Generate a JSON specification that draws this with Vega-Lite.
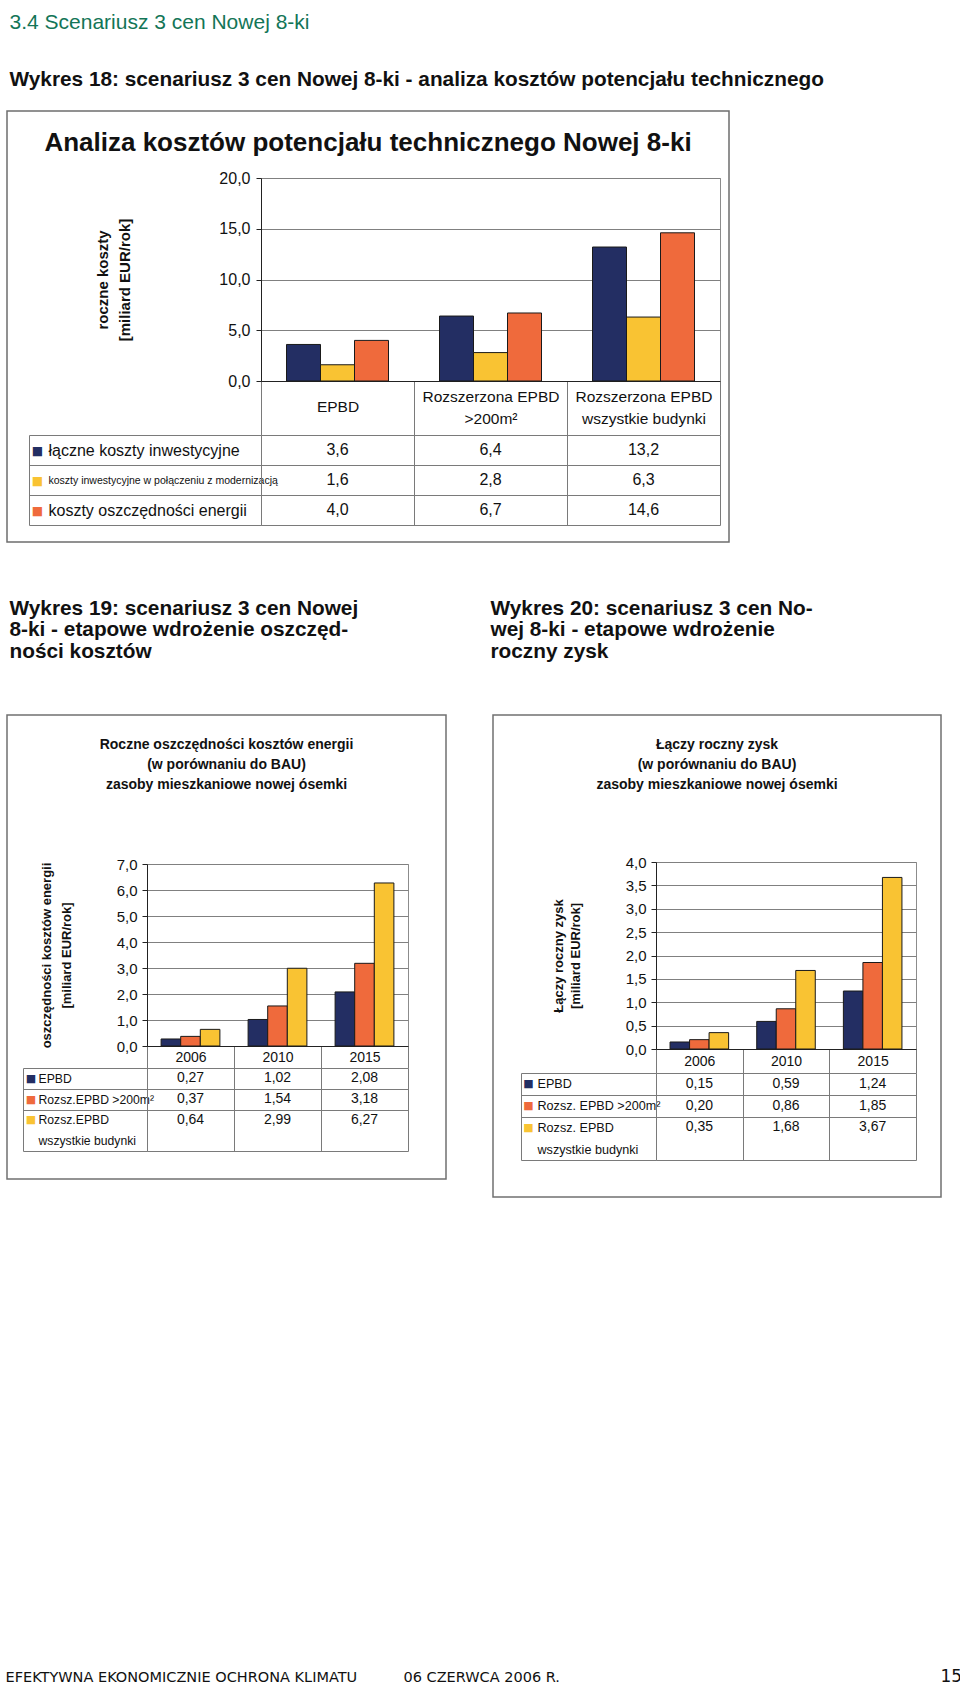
{
 "$schema": "https://vega.github.io/schema/vega-lite/v6.json",
 "padding": 0,
 "background": "#ffffff",
 "spacing": 0,
 "bounds": "flush",
 "resolve": {"scale": {"color": "independent", "xOffset": "independent"}},
 "config": {
  "view": {"stroke": null},
  "font": "Liberation Sans",
  "locale": {"number": {"decimal": ",", "thousands": " ", "grouping": [3], "currency": ["", " zł"]}},
  "axis": {"labelFont": "Liberation Sans", "titleFont": "Liberation Sans", "labelColor": "#111111", "titleColor": "#111111"},
  "text": {"font": "Liberation Sans", "color": "#111111"}
 },
 "datasets": {
  "d18": [
   {"kat": "EPBD", "seria": "łączne koszty inwestycyjne", "v": 3.6},
   {"kat": "EPBD", "seria": "koszty inwestycyjne w połączeniu z modernizacją", "v": 1.6},
   {"kat": "EPBD", "seria": "koszty oszczędności energii", "v": 4.0},
   {"kat": "Rozszerzona EPBD >200m²", "seria": "łączne koszty inwestycyjne", "v": 6.4},
   {"kat": "Rozszerzona EPBD >200m²", "seria": "koszty inwestycyjne w połączeniu z modernizacją", "v": 2.8},
   {"kat": "Rozszerzona EPBD >200m²", "seria": "koszty oszczędności energii", "v": 6.7},
   {"kat": "Rozszerzona EPBD wszystkie budynki", "seria": "łączne koszty inwestycyjne", "v": 13.2},
   {"kat": "Rozszerzona EPBD wszystkie budynki", "seria": "koszty inwestycyjne w połączeniu z modernizacją", "v": 6.3},
   {"kat": "Rozszerzona EPBD wszystkie budynki", "seria": "koszty oszczędności energii", "v": 14.6}
  ],
  "d19": [
   {"kat": "2006", "seria": "EPBD", "v": 0.27},
   {"kat": "2010", "seria": "EPBD", "v": 1.02},
   {"kat": "2015", "seria": "EPBD", "v": 2.08},
   {"kat": "2006", "seria": "Rozsz.EPBD >200m²", "v": 0.37},
   {"kat": "2010", "seria": "Rozsz.EPBD >200m²", "v": 1.54},
   {"kat": "2015", "seria": "Rozsz.EPBD >200m²", "v": 3.18},
   {"kat": "2006", "seria": "Rozsz.EPBD wszystkie budynki", "v": 0.64},
   {"kat": "2010", "seria": "Rozsz.EPBD wszystkie budynki", "v": 2.99},
   {"kat": "2015", "seria": "Rozsz.EPBD wszystkie budynki", "v": 6.27}
  ],
  "d20": [
   {"kat": "2006", "seria": "EPBD", "v": 0.15},
   {"kat": "2010", "seria": "EPBD", "v": 0.59},
   {"kat": "2015", "seria": "EPBD", "v": 1.24},
   {"kat": "2006", "seria": "Rozsz. EPBD >200m²", "v": 0.20},
   {"kat": "2010", "seria": "Rozsz. EPBD >200m²", "v": 0.86},
   {"kat": "2015", "seria": "Rozsz. EPBD >200m²", "v": 1.85},
   {"kat": "2006", "seria": "Rozsz. EPBD wszystkie budynki", "v": 0.35},
   {"kat": "2010", "seria": "Rozsz. EPBD wszystkie budynki", "v": 1.68},
   {"kat": "2015", "seria": "Rozsz. EPBD wszystkie budynki", "v": 3.67}
  ]
 },
 "vconcat": [
  {"hconcat": [
    {"width": 9, "height": 1, "data": {"values": []}, "mark": "point"},
    {"vconcat": [
      {"width": 1, "height": 28, "data": {"values": []}, "mark": "point"},
      {"width": 1, "height": 1, "data": {"values": [{"t": "3.4 Scenariusz 3 cen Nowej 8-ki"}]},
       "mark": {"type": "text", "align": "left", "baseline": "alphabetic", "fontSize": 21, "color": "#137557"},
       "encoding": {"text": {"field": "t", "type": "nominal"}}}
    ], "spacing": 0, "bounds": "flush"}
  ], "spacing": 0, "bounds": "flush"},

  {"hconcat": [
    {"width": 9, "height": 1, "data": {"values": []}, "mark": "point"},
    {"vconcat": [
      {"width": 1, "height": 85, "data": {"values": []}, "mark": "point"},
      {"width": 1, "height": 1, "data": {"values": [{"t": "Wykres 18: scenariusz 3 cen Nowej 8-ki - analiza kosztów potencjału technicznego"}]},
       "mark": {"type": "text", "align": "left", "baseline": "alphabetic", "fontSize": 20.8, "fontWeight": "bold", "color": "#111111"},
       "encoding": {"text": {"field": "t", "type": "nominal"}}}
    ], "spacing": 0, "bounds": "flush"}
  ], "spacing": 0, "bounds": "flush"},

  {"hconcat": [
    {"width": 7, "height": 1, "data": {"values": []}, "mark": "point"},
    {"vconcat": [
      {"width": 1, "height": 111, "data": {"values": []}, "mark": "point"},
      {"width": 722, "height": 431, "data": {"values": []}, "mark": "point", "view": {"stroke": "#6e6e6e", "strokeWidth": 1.5}}
    ], "spacing": 0, "bounds": "flush"}
  ], "spacing": 0, "bounds": "flush"},

  {"hconcat": [
    {"width": 7, "height": 1, "data": {"values": []}, "mark": "point"},
    {"vconcat": [
      {"width": 1, "height": 150, "data": {"values": []}, "mark": "point"},
      {"width": 722, "height": 1, "data": {"values": [{"t": "Analiza kosztów potencjału technicznego Nowej 8-ki"}]},
       "mark": {"type": "text", "align": "center", "baseline": "alphabetic", "fontSize": 26, "fontWeight": "bold", "color": "#111111"},
       "encoding": {"text": {"field": "t", "type": "nominal"}}}
    ], "spacing": 0, "bounds": "flush"}
  ], "spacing": 0, "bounds": "flush"},

  {"hconcat": [
    {"width": 261, "height": 1, "data": {"values": []}, "mark": "point"},
    {"vconcat": [
      {"width": 1, "height": 178, "data": {"values": []}, "mark": "point"},
      {"width": 459, "height": 203,
       "view": {"stroke": "#8c8c8c", "strokeWidth": 1},
       "data": {"name": "d18"},
       "mark": {"type": "bar", "stroke": "#1a1a1a", "strokeWidth": 1},
       "encoding": {
        "x": {"field": "kat", "type": "nominal",
          "scale": {"domain": ["EPBD", "Rozszerzona EPBD >200m²", "Rozszerzona EPBD wszystkie budynki"], "paddingInner": 0, "paddingOuter": 0},
          "axis": {"title": null, "orient": "bottom", "labelAngle": 0, "domainColor": "#222222", "tickBand": "extent", "tickSize": 54, "tickColor": "#7a7a7a", "labelPadding": -39,
            "labelBaseline": {"condition": {"test": "datum.value === 'EPBD'", "value": "line-top"}, "value": "middle"},
            "labelFontSize": 15.5, "labelLineHeight": 22, "labelOverlap": false, "labelLimit": 300,
            "labelExpr": "datum.value === 'Rozszerzona EPBD >200m²' ? ['Rozszerzona EPBD', '>200m²'] : datum.value === 'Rozszerzona EPBD wszystkie budynki' ? ['Rozszerzona EPBD', 'wszystkie budynki'] : datum.label"}},
        "xOffset": {"field": "seria", "type": "nominal",
          "scale": {"domain": ["łączne koszty inwestycyjne", "koszty inwestycyjne w połączeniu z modernizacją", "koszty oszczędności energii"], "paddingInner": 0, "paddingOuter": 0.75}},
        "y": {"field": "v", "type": "quantitative", "scale": {"domain": [0, 20], "nice": false},
          "axis": {"values": [0, 5, 10, 15, 20], "format": ".1f", "grid": true, "gridColor": "#808080", "domainColor": "#222222", "tickColor": "#222222", "tickSize": 5, "labelPadding": 6, "labelFontSize": 16, "labelFlush": false,
            "title": ["roczne koszty", "[miliard EUR/rok]"], "titleFontSize": 15, "titleFontWeight": "bold", "titleLineHeight": 22, "titlePadding": 86}},
        "color": {"field": "seria", "type": "nominal",
          "scale": {"domain": ["łączne koszty inwestycyjne", "koszty inwestycyjne w połączeniu z modernizacją", "koszty oszczędności energii"], "range": ["#232e63", "#f9c333", "#ef6a3c"]},
          "legend": null}
       }},
      {"width": 1, "height": 54, "data": {"values": []}, "mark": "point"},
      {"width": 459, "height": 90,
       "data": {"name": "d18"},
       "resolve": {"scale": {"y": "independent"}, "axis": {"y": "independent"}},
       "layer": [
        {"mark": {"type": "text", "fontSize": 16, "color": "#111111", "baseline": "middle"},
         "encoding": {
          "x": {"field": "kat", "type": "nominal",
            "scale": {"domain": ["EPBD", "Rozszerzona EPBD >200m²", "Rozszerzona EPBD wszystkie budynki"], "paddingInner": 0, "paddingOuter": 0},
            "axis": {"orient": "top", "title": null, "labels": false, "ticks": false, "domain": false, "grid": true, "gridColor": "#7a7a7a", "tickBand": "extent"}},
          "y": {"field": "seria", "type": "nominal",
            "scale": {"domain": ["łączne koszty inwestycyjne", "koszty inwestycyjne w połączeniu z modernizacją", "koszty oszczędności energii"], "paddingInner": 0, "paddingOuter": 0},
            "axis": {"orient": "left", "title": null, "domain": true, "domainColor": "#7a7a7a", "ticks": true, "tickBand": "extent", "tickSize": 232, "tickColor": "#7a7a7a", "grid": true, "gridColor": "#7a7a7a",
              "labelAlign": "left", "labelBaseline": "middle", "labelPadding": -19, "labelLimit": 400,
              "labelFontSize": {"condition": {"test": "datum.value === 'koszty inwestycyjne w połączeniu z modernizacją'", "value": 10.5}, "value": 16}}},
          "text": {"field": "v", "type": "quantitative", "format": ".1f"}
         }},
        {"mark": {"type": "text", "text": ""},
         "encoding": {
          "y": {"field": "seria", "type": "nominal",
            "scale": {"domain": ["łączne koszty inwestycyjne", "koszty inwestycyjne w połączeniu z modernizacją", "koszty oszczędności energii"], "paddingInner": 0, "paddingOuter": 0},
            "axis": {"orient": "left", "offset": 232, "title": null, "domain": true, "domainColor": "#7a7a7a", "ticks": false, "tickSize": 0, "grid": false,
              "labelAlign": "center", "labelBaseline": "middle", "labelPadding": -8, "labelFont": "DejaVu Sans", "labelFontSize": 12, "labelExpr": "'■'",
              "labelColor": {"condition": [{"test": "datum.value === 'łączne koszty inwestycyjne'", "value": "#232e63"}, {"test": "datum.value === 'koszty inwestycyjne w połączeniu z modernizacją'", "value": "#f9c333"}], "value": "#ef6a3c"}}}
         }}
       ]}
    ], "spacing": 0, "bounds": "flush"}
  ], "spacing": 0, "bounds": "flush"},

  {"vconcat": [
    {"width": 1, "height": 614, "data": {"values": []}, "mark": "point"},
    {"hconcat": [
      {"width": 9, "height": 1, "data": {"values": []}, "mark": "point"},
      {"width": 1, "height": 1, "data": {"values": [{"t": "Wykres 19: scenariusz 3 cen Nowej\n8-ki - etapowe wdrożenie oszczęd-\nności kosztów"}]},
       "mark": {"type": "text", "align": "left", "baseline": "alphabetic", "fontSize": 20.8, "fontWeight": "bold", "lineBreak": "\n", "lineHeight": 21.5, "color": "#111111"},
       "encoding": {"text": {"field": "t", "type": "nominal"}}},
      {"width": 480, "height": 1, "data": {"values": []}, "mark": "point"},
      {"width": 1, "height": 1, "data": {"values": [{"t": "Wykres 20: scenariusz 3 cen No-\nwej 8-ki - etapowe wdrożenie\nroczny zysk"}]},
       "mark": {"type": "text", "align": "left", "baseline": "alphabetic", "fontSize": 20.8, "fontWeight": "bold", "lineBreak": "\n", "lineHeight": 21.5, "color": "#111111"},
       "encoding": {"text": {"field": "t", "type": "nominal"}}}
    ], "spacing": 0, "bounds": "flush"}
  ], "spacing": 0, "bounds": "flush"},

  {"vconcat": [
    {"width": 1, "height": 715, "data": {"values": []}, "mark": "point"},
    {"hconcat": [
      {"width": 7, "height": 1, "data": {"values": []}, "mark": "point"},
      {"width": 439, "height": 464, "data": {"values": []}, "mark": "point", "view": {"stroke": "#707070", "strokeWidth": 1.5}},
      {"width": 47, "height": 1, "data": {"values": []}, "mark": "point"},
      {"width": 448, "height": 482, "data": {"values": []}, "mark": "point", "view": {"stroke": "#707070", "strokeWidth": 1.5}}
    ], "spacing": 0, "bounds": "flush"}
  ], "spacing": 0, "bounds": "flush"},

  {"vconcat": [
    {"width": 1, "height": 748, "data": {"values": []}, "mark": "point"},
    {"hconcat": [
      {"width": 7, "height": 1, "data": {"values": []}, "mark": "point"},
      {"width": 439, "height": 1, "data": {"values": [{"t": "Roczne oszczędności kosztów energii\n(w porównaniu do BAU)\nzasoby mieszkaniowe nowej ósemki"}]},
       "mark": {"type": "text", "align": "center", "baseline": "alphabetic", "fontSize": 14, "fontWeight": "bold", "lineBreak": "\n", "lineHeight": 20, "color": "#111111"},
       "encoding": {"text": {"field": "t", "type": "nominal"}}},
      {"width": 47, "height": 1, "data": {"values": []}, "mark": "point"},
      {"width": 448, "height": 1, "data": {"values": [{"t": "Łączy roczny zysk\n(w porównaniu do BAU)\nzasoby mieszkaniowe nowej ósemki"}]},
       "mark": {"type": "text", "align": "center", "baseline": "alphabetic", "fontSize": 14, "fontWeight": "bold", "lineBreak": "\n", "lineHeight": 20, "color": "#111111"},
       "encoding": {"text": {"field": "t", "type": "nominal"}}}
    ], "spacing": 0, "bounds": "flush"}
  ], "spacing": 0, "bounds": "flush"},

  {"hconcat": [
    {"width": 147, "height": 1, "data": {"values": []}, "mark": "point"},
    {"vconcat": [
      {"width": 1, "height": 864, "data": {"values": []}, "mark": "point"},
      {"width": 261, "height": 182,
       "view": {"stroke": "#8c8c8c", "strokeWidth": 1},
       "data": {"name": "d19"},
       "mark": {"type": "bar", "stroke": "#1a1a1a", "strokeWidth": 1},
       "encoding": {
        "x": {"field": "kat", "type": "nominal", "scale": {"domain": ["2006", "2010", "2015"], "paddingInner": 0, "paddingOuter": 0},
          "axis": {"title": null, "orient": "bottom", "labelAngle": 0, "domainColor": "#222222", "tickBand": "extent", "tickSize": 22, "tickColor": "#7a7a7a", "labelPadding": -11, "labelBaseline": "middle", "labelFontSize": 14}},
        "xOffset": {"field": "seria", "type": "nominal", "scale": {"domain": ["EPBD", "Rozsz.EPBD >200m²", "Rozsz.EPBD wszystkie budynki"], "paddingInner": 0, "paddingOuter": 0.72}},
        "y": {"field": "v", "type": "quantitative", "scale": {"domain": [0, 7], "nice": false},
          "axis": {"values": [0, 1, 2, 3, 4, 5, 6, 7], "format": ".1f", "grid": true, "gridColor": "#808080", "domainColor": "#222222", "tickColor": "#222222", "tickSize": 5, "labelPadding": 5, "labelFontSize": 15, "labelFlush": false,
            "title": ["oszczędności kosztów energii", "[miliard EUR/rok]"], "titleFontSize": 13, "titleFontWeight": "bold", "titleLineHeight": 20, "titlePadding": 43}},
        "color": {"field": "seria", "type": "nominal", "scale": {"domain": ["EPBD", "Rozsz.EPBD >200m²", "Rozsz.EPBD wszystkie budynki"], "range": ["#232e63", "#ef6a3c", "#f9c333"]}, "legend": null}
       }},
      {"width": 1, "height": 22, "data": {"values": []}, "mark": "point"},
      {"width": 261, "height": 83,
       "data": {"name": "d19"},
       "resolve": {"scale": {"y": "independent"}, "axis": {"y": "independent"}},
       "layer": [
        {"mark": {"type": "text", "fontSize": 14, "color": "#111111", "baseline": "middle"},
         "encoding": {
          "x": {"field": "kat", "type": "nominal", "scale": {"domain": ["2006", "2010", "2015"], "paddingInner": 0, "paddingOuter": 0},
            "axis": {"orient": "top", "title": null, "labels": false, "ticks": false, "domain": false, "grid": true, "gridColor": "#7a7a7a", "tickBand": "extent"}},
          "y": {"field": "seria", "type": "nominal",
            "scale": {"domain": ["EPBD", "Rozsz.EPBD >200m²", "Rozsz.EPBD wszystkie budynki", "wszystkie budynki"], "paddingInner": 0, "paddingOuter": 0},
            "axis": {"orient": "left", "title": null, "domain": true, "domainColor": "#7a7a7a", "ticks": true, "tickBand": "extent", "tickSize": 124, "tickColor": "#7a7a7a", "grid": true, "gridColor": "#7a7a7a",
              "tickOpacity": {"condition": {"test": "datum.value === 'Rozsz.EPBD wszystkie budynki'", "value": 0}, "value": 1},
              "gridOpacity": {"condition": {"test": "datum.value === 'Rozsz.EPBD wszystkie budynki'", "value": 0}, "value": 1},
              "labelAlign": "left", "labelBaseline": "middle", "labelPadding": -15, "labelLimit": 300, "labelFontSize": 12.2,
              "labelExpr": "datum.value === 'Rozsz.EPBD wszystkie budynki' ? 'Rozsz.EPBD' : datum.label"}},
          "text": {"field": "v", "type": "quantitative", "format": ".2f"}
         }},
        {"mark": {"type": "text", "text": ""},
         "encoding": {
          "y": {"field": "seria", "type": "nominal",
            "scale": {"domain": ["EPBD", "Rozsz.EPBD >200m²", "Rozsz.EPBD wszystkie budynki", "wszystkie budynki"], "paddingInner": 0, "paddingOuter": 0},
            "axis": {"orient": "left", "offset": 124, "title": null, "domain": true, "domainColor": "#7a7a7a", "ticks": false, "tickSize": 0, "grid": false,
              "labelAlign": "center", "labelBaseline": "middle", "labelPadding": -7.5, "labelFont": "DejaVu Sans", "labelFontSize": 11,
              "labelExpr": "datum.value === 'wszystkie budynki' ? '' : '■'",
              "labelColor": {"condition": [{"test": "datum.value === 'EPBD'", "value": "#232e63"}, {"test": "datum.value === 'Rozsz.EPBD >200m²'", "value": "#ef6a3c"}], "value": "#f9c333"}}}
         }}
       ]}
    ], "spacing": 0, "bounds": "flush"}
  ], "spacing": 0, "bounds": "flush"},

  {"hconcat": [
    {"width": 656, "height": 1, "data": {"values": []}, "mark": "point"},
    {"vconcat": [
      {"width": 1, "height": 862, "data": {"values": []}, "mark": "point"},
      {"width": 260, "height": 187,
       "view": {"stroke": "#8c8c8c", "strokeWidth": 1},
       "data": {"name": "d20"},
       "mark": {"type": "bar", "stroke": "#1a1a1a", "strokeWidth": 1},
       "encoding": {
        "x": {"field": "kat", "type": "nominal", "scale": {"domain": ["2006", "2010", "2015"], "paddingInner": 0, "paddingOuter": 0},
          "axis": {"title": null, "orient": "bottom", "labelAngle": 0, "domainColor": "#222222", "tickBand": "extent", "tickSize": 24, "tickColor": "#7a7a7a", "labelPadding": -12, "labelBaseline": "middle", "labelFontSize": 14}},
        "xOffset": {"field": "seria", "type": "nominal", "scale": {"domain": ["EPBD", "Rozsz. EPBD >200m²", "Rozsz. EPBD wszystkie budynki"], "paddingInner": 0, "paddingOuter": 0.72}},
        "y": {"field": "v", "type": "quantitative", "scale": {"domain": [0, 4], "nice": false},
          "axis": {"values": [0, 0.5, 1, 1.5, 2, 2.5, 3, 3.5, 4], "format": ".1f", "grid": true, "gridColor": "#808080", "domainColor": "#222222", "tickColor": "#222222", "tickSize": 5, "labelPadding": 5, "labelFontSize": 15, "labelFlush": false,
            "title": ["Łączy roczny zysk", "[miliard EUR/rok]"], "titleFontSize": 13, "titleFontWeight": "bold", "titleLineHeight": 17, "titlePadding": 43}},
        "color": {"field": "seria", "type": "nominal", "scale": {"domain": ["EPBD", "Rozsz. EPBD >200m²", "Rozsz. EPBD wszystkie budynki"], "range": ["#232e63", "#ef6a3c", "#f9c333"]}, "legend": null}
       }},
      {"width": 1, "height": 24, "data": {"values": []}, "mark": "point"},
      {"width": 260, "height": 87,
       "data": {"name": "d20"},
       "resolve": {"scale": {"y": "independent"}, "axis": {"y": "independent"}},
       "layer": [
        {"mark": {"type": "text", "fontSize": 14, "color": "#111111", "baseline": "middle"},
         "encoding": {
          "x": {"field": "kat", "type": "nominal", "scale": {"domain": ["2006", "2010", "2015"], "paddingInner": 0, "paddingOuter": 0},
            "axis": {"orient": "top", "title": null, "labels": false, "ticks": false, "domain": false, "grid": true, "gridColor": "#7a7a7a", "tickBand": "extent"}},
          "y": {"field": "seria", "type": "nominal",
            "scale": {"domain": ["EPBD", "Rozsz. EPBD >200m²", "Rozsz. EPBD wszystkie budynki", "wszystkie budynki"], "paddingInner": 0, "paddingOuter": 0},
            "axis": {"orient": "left", "title": null, "domain": true, "domainColor": "#7a7a7a", "ticks": true, "tickBand": "extent", "tickSize": 135, "tickColor": "#7a7a7a", "grid": true, "gridColor": "#7a7a7a",
              "tickOpacity": {"condition": {"test": "datum.value === 'Rozsz. EPBD wszystkie budynki'", "value": 0}, "value": 1},
              "gridOpacity": {"condition": {"test": "datum.value === 'Rozsz. EPBD wszystkie budynki'", "value": 0}, "value": 1},
              "labelAlign": "left", "labelBaseline": "middle", "labelPadding": -16, "labelLimit": 300, "labelFontSize": 12.6,
              "labelExpr": "datum.value === 'Rozsz. EPBD wszystkie budynki' ? 'Rozsz. EPBD' : datum.label"}},
          "text": {"field": "v", "type": "quantitative", "format": ".2f"}
         }},
        {"mark": {"type": "text", "text": ""},
         "encoding": {
          "y": {"field": "seria", "type": "nominal",
            "scale": {"domain": ["EPBD", "Rozsz. EPBD >200m²", "Rozsz. EPBD wszystkie budynki", "wszystkie budynki"], "paddingInner": 0, "paddingOuter": 0},
            "axis": {"orient": "left", "offset": 135, "title": null, "domain": true, "domainColor": "#7a7a7a", "ticks": false, "tickSize": 0, "grid": false,
              "labelAlign": "center", "labelBaseline": "middle", "labelPadding": -7, "labelFont": "DejaVu Sans", "labelFontSize": 11,
              "labelExpr": "datum.value === 'wszystkie budynki' ? '' : '■'",
              "labelColor": {"condition": [{"test": "datum.value === 'EPBD'", "value": "#232e63"}, {"test": "datum.value === 'Rozsz. EPBD >200m²'", "value": "#ef6a3c"}], "value": "#f9c333"}}}
         }}
       ]}
    ], "spacing": 0, "bounds": "flush"}
  ], "spacing": 0, "bounds": "flush"},

  {"vconcat": [
    {"width": 1, "height": 1681, "data": {"values": []}, "mark": "point"},
    {"hconcat": [
      {"width": 5, "height": 1, "data": {"values": []}, "mark": "point"},
      {"width": 1, "height": 1, "data": {"values": [{"t": "EFEKTYWNA EKONOMICZNIE OCHRONA KLIMATU"}]},
       "mark": {"type": "text", "align": "left", "baseline": "alphabetic", "font": "DejaVu Sans", "fontSize": 14.5, "color": "#111111"},
       "encoding": {"text": {"field": "t", "type": "nominal"}}},
      {"width": 397, "height": 1, "data": {"values": []}, "mark": "point"},
      {"width": 1, "height": 1, "data": {"values": [{"t": "06 CZERWCA 2006 R."}]},
       "mark": {"type": "text", "align": "left", "baseline": "alphabetic", "font": "DejaVu Sans", "fontSize": 14.5, "color": "#111111"},
       "encoding": {"text": {"field": "t", "type": "nominal"}}},
      {"width": 536, "height": 1, "data": {"values": []}, "mark": "point"},
      {"width": 1, "height": 1, "data": {"values": [{"t": "15"}]},
       "mark": {"type": "text", "align": "left", "baseline": "alphabetic", "font": "DejaVu Sans", "fontSize": 17, "color": "#111111"},
       "encoding": {"text": {"field": "t", "type": "nominal"}}}
    ], "spacing": 0, "bounds": "flush"}
  ], "spacing": 0, "bounds": "flush"}
 ]
}
